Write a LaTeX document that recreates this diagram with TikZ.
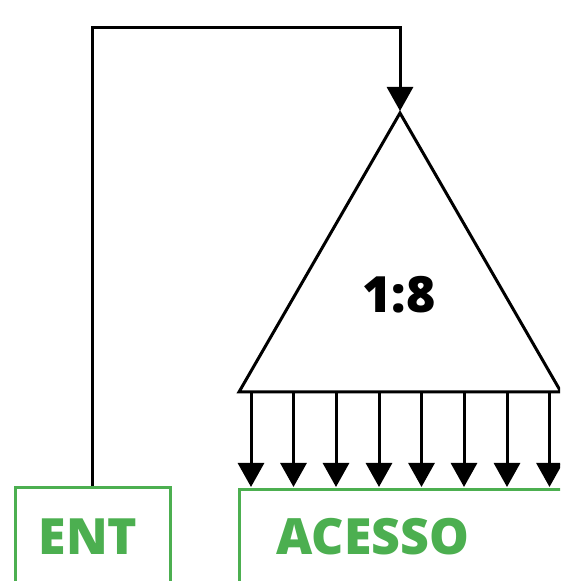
\documentclass[tikz,border=0pt]{standalone}
\usepackage{fontspec}
\IfFontExistsTF{OpenSans-ExtraBold}{%
  \setmainfont{Open Sans}[BoldFont={OpenSans-ExtraBold}]}{%
\IfFontExistsTF{Open Sans Extrabold}{%
  \setmainfont{Open Sans}[BoldFont={Open Sans Extrabold}]}{%
\IfFontExistsTF{FiraSans-ExtraBold}{%
  \setmainfont{Fira Sans}[BoldFont={FiraSans-ExtraBold}]}{%
\IfFontExistsTF{Fira Sans ExtraBold}{%
  \setmainfont{Fira Sans}[BoldFont={Fira Sans ExtraBold}]}{%
  \setmainfont{Open Sans}}}}}
\usetikzlibrary{arrows.meta}
\definecolor{grn}{HTML}{4CAF50}
\begin{document}
\begin{tikzpicture}[x=1pt,y=1pt,
  box/.style={draw=grn,line width=3pt,rectangle,inner sep=0pt},
  lbl/.style={text=grn,font=\fontsize{50}{50}\selectfont\bfseries,inner sep=0pt},
  wire/.style={draw=black,line width=3pt},
  tip/.style={-{Triangle[width=26pt,length=24pt]}}]
\useasboundingbox (0,0) rectangle (560,581);
\clip (0,0) rectangle (560,581);
% boxes (y = 581 - pixel y)
\node[box,minimum width=155pt,minimum height=98pt] (ent) at (92.5,44) {};
\node[lbl] (enttext) at (88,44) {ENT};
\node[box,minimum width=400pt,minimum height=98pt,anchor=north west] (acc) at (238,93) {};
\node[lbl] (acctext) at (373,44) {ACESSO};
% triangle
\coordinate (apex) at (400,468);
\coordinate (bl) at (239,189);
\coordinate (br) at (561,189);
\draw[wire,line join=miter] (apex) -- (bl) -- (br) -- cycle;
\node[font=\fontsize{50}{50}\selectfont\bfseries,inner sep=0pt] (ratio) at (399,286) {1:8};
% feedback
\coordinate (c1) at (92,553);
\coordinate (c2) at (400,553);
\draw[wire,tip] (ent.north -| c1) -- (c1) -- (c2) -- ([yshift=2pt]apex);
% output arrows
\foreach \i/\x in {1/251,2/293.5,3/336,4/379,5/421.5,6/464,7/507,8/549.5}{
  \coordinate (s\i) at (\x,189);
  \coordinate (e\i) at (\x,94);
  \draw[wire,tip] (s\i) -- (e\i);
}
\end{tikzpicture}
\end{document}
